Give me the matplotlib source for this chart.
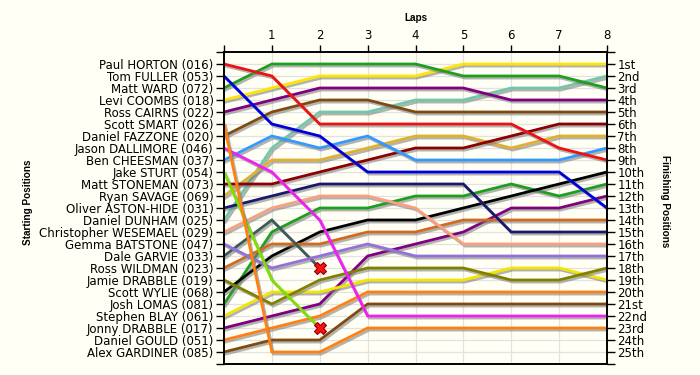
import numpy as np
import matplotlib
matplotlib.use("Agg")
import matplotlib.pyplot as plt
import matplotlib.patheffects as pe

laps = list(range(9))
lap_labels = ["", "1", "2", "3", "4", "5", "6", "7", "8"]

drivers = [
    "Paul HORTON (016)", "Tom FULLER (053)", "Matt WARD (072)", "Levi COOMBS (018)",
    "Ross CAIRNS (022)", "Scott SMART (026)", "Daniel FAZZONE (020)", "Jason DALLIMORE (046)",
    "Ben CHEESMAN (037)", "Jake STURT (054)", "Matt STONEMAN (073)", "Ryan SAVAGE (069)",
    "Oliver ASTON-HIDE (031)", "Daniel DUNHAM (025)", "Christopher WESEMAEL (029)",
    "Gemma BATSTONE (047)", "Dale GARVIE (033)", "Ross WILDMAN (023)", "Jamie DRABBLE (019)",
    "Scott WYLIE (068)", "Josh LOMAS (081)", "Stephen BLAY (061)", "Jonny DRABBLE (017)",
    "Daniel GOULD (051)", "Alex GARDINER (085)",
]

horton = [1, 2, 6, 6, 6, 6, 6, 8, 9]
fuller = [2, 6, 7, 10, 10, 10, 10, 10, 13]
ward = [3, 1, 1, 1, 1, 2, 2, 2, 3]
coombs = [4, 3, 2, 2, 2, 1, 1, 1, 1]
cairns = [5, 4, 3, 3, 3, 3, 4, 4, 4]
smart = [6, 25, 25, 23, 23, 23, 23, 23, 23]
fazzone = [7, 5, 4, 4, 5, 5, 5, 5, 5]
dallimore = [8, 10, 14, 22, 22, 22, 22, 22, 22]
cheesman = [9, 7, 8, 7, 9, 9, 9, 9, 8]
sturt = [10, 19, 23]
stoneman = [11, 11, 10, 9, 8, 8, 7, 6, 6]
savage = [12, 9, 9, 8, 7, 7, 8, 7, 7]
aston_hide = [13, 12, 11, 11, 11, 11, 15, 15, 15]
dunham = [14, 8, 5, 5, 4, 4, 3, 3, 2]
wesemael = [15, 13, 12, 12, 13, 16, 16, 16, 16]
batstone = [16, 18, 17, 16, 17, 17, 17, 17, 17]
garvie = [17, 14, 18]
wildman = [18, 16, 16, 15, 15, 14, 14, 14, 14]
jamie_drabble = [19, 21, 19, 18, 18, 18, 19, 19, 18]
wylie = [20, 17, 15, 14, 14, 13, 12, 11, 10]
lomas = [21, 15, 13, 13, 12, 12, 11, 12, 11]
blay = [22, 20, 20, 19, 19, 19, 18, 18, 19]
jonny_drabble = [23, 22, 21, 17, 16, 15, 13, 13, 12]
gould = [24, 23, 22, 20, 20, 20, 20, 20, 20]
gardiner = [25, 24, 24, 21, 21, 21, 21, 21, 21]

series = [horton, fuller, ward, coombs, cairns, smart, fazzone, dallimore, cheesman,
          sturt, stoneman, savage, aston_hide, dunham, wesemael, batstone, garvie,
          wildman, jamie_drabble, wylie, lomas, blay, jonny_drabble, gould, gardiner]
retired = [False] * 25
retired[9] = True
retired[16] = True

colors = ["#EE1111", "#0000DD", "#1E9E1E", "#FFE600", "#800080", "#FF8010", "#7F4A12",
          "#F020F0", "#3399FF", "#80E000", "#8B0000", "#E0B030", "#191970", "#70C8A8",
          "#F8A080", "#9370DB", "#3C5A58", "#D2691E", "#808000", "#000000", "#1E9E1E",
          "#F5E400", "#800080", "#FF8010", "#7F4A12"]

finish_labels = []
for n in range(1, 26):
    suf = "th"
    if n % 10 == 1 and n != 11:
        suf = "st"
    elif n % 10 == 2 and n != 12:
        suf = "nd"
    elif n % 10 == 3 and n != 13:
        suf = "rd"
    finish_labels.append(f"{n}{suf}")

bg = "#FFFFF5"
plt.rcParams["font.family"] = ["DejaVu Sans"]
fig = plt.figure(figsize=(7, 3.75), dpi=100, facecolor=bg)
ax = fig.add_axes([224 / 700, 1 - 364 / 375, 383 / 700, 312 / 375])
ax.set_facecolor(bg)
ax.set_xlim(0, 8)
ax.set_ylim(26, 0)

for x in range(1, 8):
    ax.axvline(x, color="#E2E2E2", lw=0.9, zorder=0)
for y in range(1, 26):
    ax.axhline(y, color="#E2E2E2", lw=0.9, zorder=0)

shadow = [pe.SimpleLineShadow(offset=(1.2, -1.5), shadow_color="#777777", alpha=0.55), pe.Normal()]
for i in range(len(series) - 1, -1, -1):
    s = series[i]
    ax.plot(laps[:len(s)], s, color=colors[i], lw=2.0, solid_joinstyle="miter",
            path_effects=shadow, zorder=2 + (25 - i) * 0.01)
    if retired[i]:
        ax.plot(laps[len(s) - 1], s[-1], marker="X", ms=9, color="#FF1010",
                mec="#900000", mew=0.8, zorder=5)

ax.set_xticks(laps)
ax.set_xticklabels(lap_labels)
ax.xaxis.tick_top()
ax.tick_params(axis="x", direction="out", length=5, width=1, pad=2, labelsize=8.5, colors="black")

ax.set_yticks(range(0, 27))
ax.set_yticklabels([""] + drivers + [""])
ax.tick_params(axis="y", direction="out", length=6, width=1, pad=1.5, labelsize=8.5, colors="black")

ax2 = ax.twinx()
ax2.set_ylim(26, 0)
ax2.set_yticks(range(0, 27))
ax2.set_yticklabels([""] + finish_labels + [""])
ax2.tick_params(axis="y", direction="out", length=6, width=1, pad=1.5, labelsize=8.5, colors="black")

for a in (ax, ax2):
    for sp in a.spines.values():
        sp.set_color("black")
        sp.set_linewidth(1.2)

title_font = dict(family="Liberation Sans", fontsize=7.2, fontweight="bold")
fig.text(416 / 700, 1 - 18 / 375, "Laps", ha="center", va="center", **title_font)
fig.text(28 / 700, 1 - 202 / 375, "Starting Positions", ha="center", va="center",
         rotation=90, **title_font)
fig.text(665 / 700, 1 - 201 / 375, "Finishing Positions", ha="center", va="center",
         rotation=270, **title_font)

fig.savefig("out.png", dpi=100, facecolor=bg)
